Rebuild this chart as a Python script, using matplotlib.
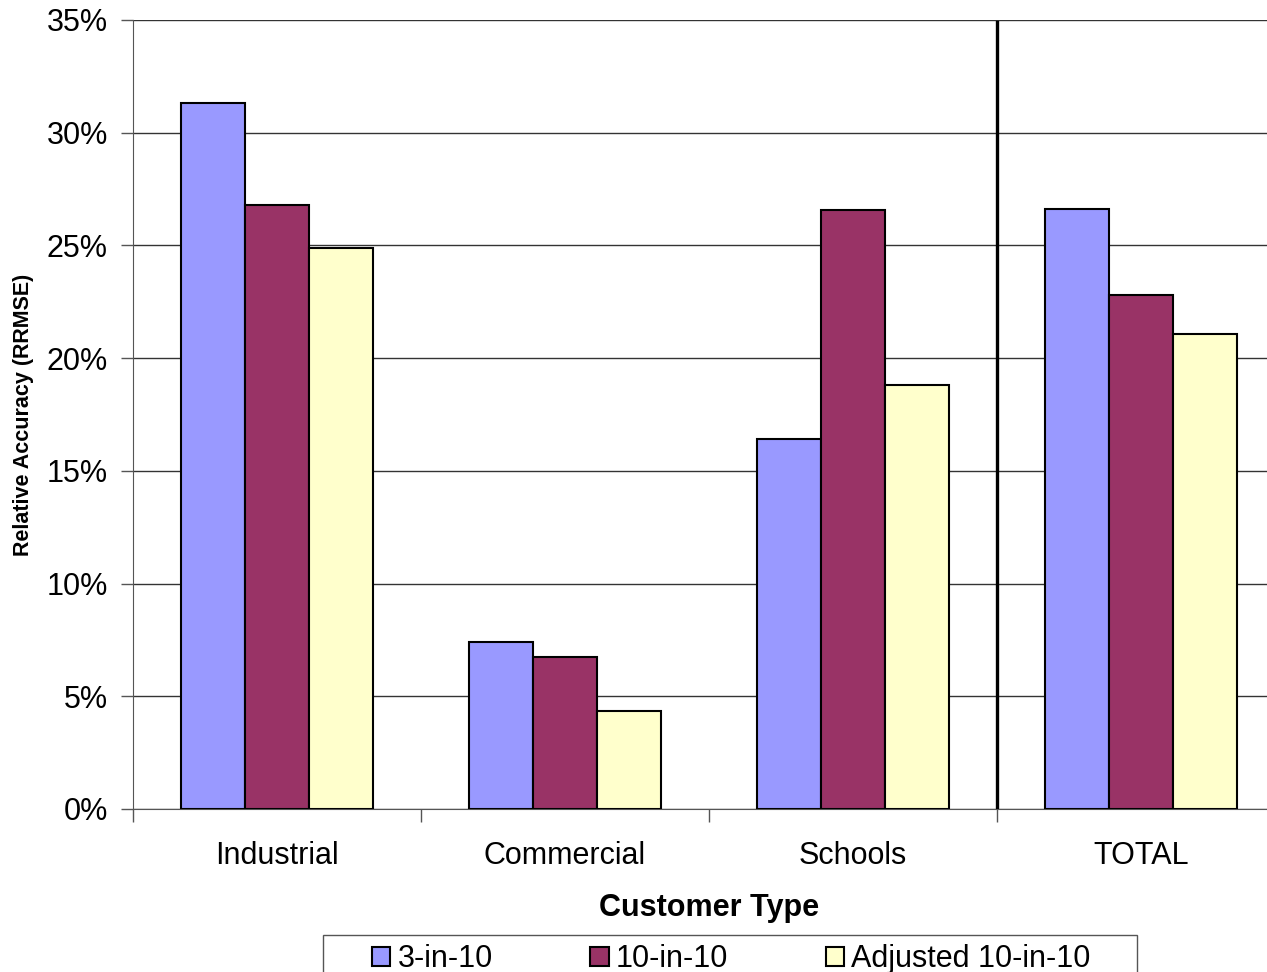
import numpy as np
import matplotlib.pyplot as plt
from matplotlib.ticker import FuncFormatter, FixedLocator
from matplotlib.patches import Rectangle

plt.rcParams['font.family'] = ['Liberation Sans', 'DejaVu Sans']

# values (percent)
categorias = ['Industrial', 'Commercial', 'Schools', 'TOTAL']
series = ['3-in-10', '10-in-10', 'Adjusted 10-in-10']
v_3in10 = [31.3, 7.4, 16.4, 26.6]
v_10in10 = [26.8, 6.75, 26.55, 22.8]
v_ajustado = [24.9, 4.35, 18.8, 21.05]
cores = ['#9999FF', '#993366', '#FFFFCC']

W, H = 1267, 972
fig = plt.figure(figsize=(W / 100, H / 100), dpi=100)
ax = fig.add_axes([133 / W, 1 - 809 / H, (1285 - 133) / W, (809 - 20) / H])

x = np.arange(len(categorias))
larg = 0.222
for i, (vals, nome) in enumerate(zip([v_3in10, v_10in10, v_ajustado], series)):
    ax.bar(x + (i - 1) * larg, vals, larg, color=cores[i], edgecolor='black',
           linewidth=1.5, label=nome, zorder=3)

ax.set_xlim(-0.5, len(categorias) - 0.5)
ax.set_ylim(0, 35)
ax.set_yticks(np.arange(0, 36, 5))
ax.yaxis.set_major_formatter(FuncFormatter(lambda v, p: f'{v:.0f}%'))
ax.grid(axis='y', color='#333333', linewidth=1, zorder=0)
ax.set_axisbelow(True)

# separador antes do total
ax.axvline(2.5, ymin=0, ymax=0.997, color='black', linewidth=2.4, zorder=4)

ax.set_xticks(x)
ax.set_xticklabels(categorias, fontsize=22)
ax.tick_params(axis='x', which='major', length=0, pad=23)
ax.xaxis.set_minor_locator(FixedLocator(np.arange(-0.5, len(categorias), 1.0)))
ax.tick_params(axis='x', which='minor', length=9, width=1, color='#555555')
ax.tick_params(axis='y', labelsize=22, length=9, width=1, color='#555555', pad=9)

for s in ['top', 'right']:
    ax.spines[s].set_visible(False)
ax.spines['left'].set_color('#555555')
ax.spines['bottom'].set_color('#555555')

ax.set_xlabel('Customer Type', fontsize=22, fontweight='bold', labelpad=16)
ax.set_ylabel('Relative Accuracy (RRMSE)', fontsize=15.5, fontweight='bold', labelpad=9)

# moldura da legenda (cortada embaixo como no original)
fig.patches.append(Rectangle((323 / W, -0.05), (1137 - 323) / W, 0.05 + 1 - 935 / H,
                             transform=fig.transFigure, facecolor='white',
                             edgecolor='#555555', linewidth=1, zorder=0))
leg = fig.legend(loc='upper left', bbox_to_anchor=(372 / W, 1 - 944 / H), ncol=3,
                 fontsize=22, frameon=False,
                 handlelength=0.6, handleheight=0.6, handletextpad=0.23,
                 columnspacing=3.2, borderpad=0, borderaxespad=0)

plt.savefig('out.png', dpi=100)
